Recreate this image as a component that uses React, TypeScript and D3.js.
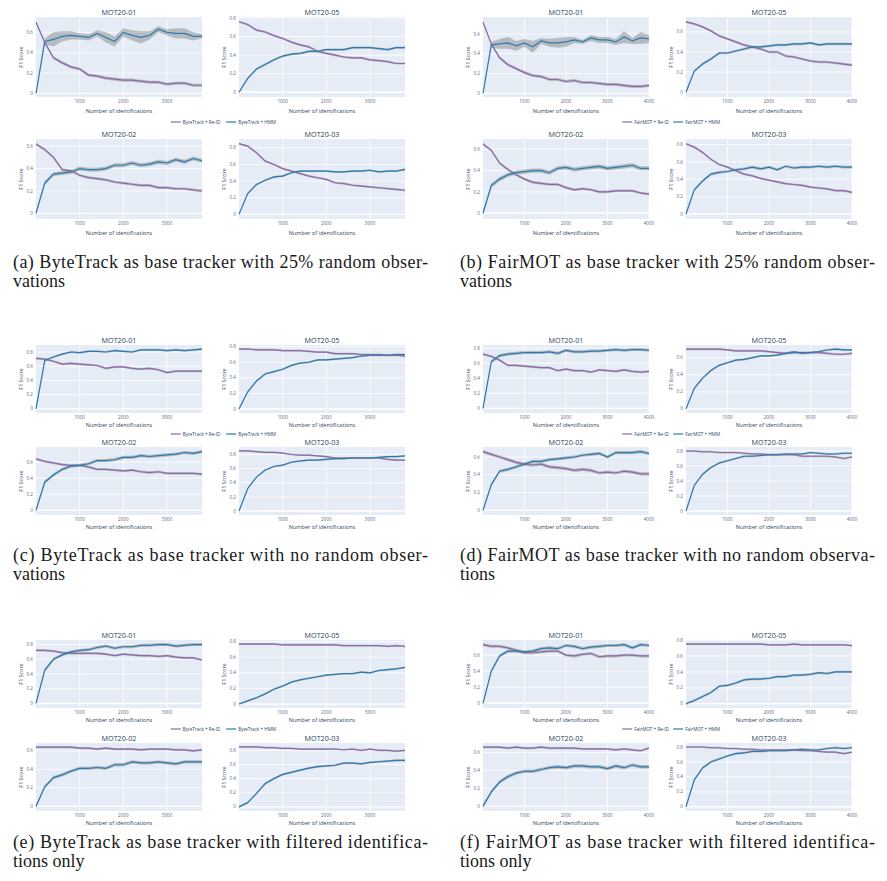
import React from 'react';
import * as d3 from 'd3';

// identification counts on the x axis
const BT_IDS = [0, 200, 400, 600, 800, 1000, 1200, 1400, 1600, 1800, 2000, 2200, 2400, 2600, 2800, 3000, 3200, 3400, 3600, 3800];
const FM_IDS = [0, 200, 400, 600, 800, 1000, 1200, 1400, 1600, 1800, 2000, 2200, 2400, 2600, 2800, 3000, 3200, 3400, 3600, 3800, 4000];
const BT_X_TICKS = [1000, 2000, 3000];
const FM_X_TICKS = [1000, 2000, 3000, 4000];
const Y_TICKS = [0, 0.2, 0.4, 0.6, 0.8];
const SEQUENCES = ['MOT20-01', 'MOT20-05', 'MOT20-02', 'MOT20-03'];

// (a) ByteTrack, 25% random observations
const A01_REID = [0.70, 0.50, 0.35, 0.30, 0.26, 0.24, 0.18, 0.17, 0.15, 0.14, 0.13, 0.13, 0.12, 0.11, 0.11, 0.09, 0.10, 0.10, 0.08, 0.08];
const A01_HMM = [0, 0.51, 0.53, 0.56, 0.57, 0.56, 0.55, 0.59, 0.55, 0.51, 0.60, 0.57, 0.55, 0.57, 0.63, 0.60, 0.59, 0.59, 0.56, 0.56];
const A01_HMM_BAND = [0, 0.03, 0.07, 0.05, 0.04, 0.03, 0.03, 0.03, 0.05, 0.05, 0.04, 0.05, 0.06, 0.04, 0.03, 0.03, 0.05, 0.05, 0.04, 0.02];
const A05_REID = [0.76, 0.73, 0.67, 0.65, 0.61, 0.58, 0.54, 0.51, 0.49, 0.44, 0.42, 0.40, 0.38, 0.37, 0.37, 0.35, 0.34, 0.33, 0.31, 0.31];
const A05_HMM = [0, 0.15, 0.25, 0.30, 0.35, 0.39, 0.41, 0.42, 0.44, 0.44, 0.46, 0.46, 0.46, 0.48, 0.48, 0.48, 0.47, 0.46, 0.48, 0.48];
const A02_REID = [0.62, 0.57, 0.50, 0.39, 0.38, 0.34, 0.32, 0.31, 0.30, 0.28, 0.27, 0.26, 0.25, 0.25, 0.23, 0.23, 0.22, 0.22, 0.21, 0.20];
const A02_HMM = [0, 0.27, 0.35, 0.36, 0.37, 0.40, 0.39, 0.39, 0.40, 0.43, 0.43, 0.45, 0.43, 0.44, 0.46, 0.45, 0.48, 0.46, 0.49, 0.47];
const A03_REID = [0.85, 0.82, 0.74, 0.64, 0.60, 0.55, 0.52, 0.49, 0.46, 0.44, 0.42, 0.38, 0.37, 0.35, 0.34, 0.33, 0.32, 0.31, 0.30, 0.29];
const A03_HMM = [0, 0.25, 0.36, 0.41, 0.45, 0.46, 0.50, 0.52, 0.52, 0.52, 0.52, 0.51, 0.51, 0.52, 0.52, 0.53, 0.51, 0.52, 0.52, 0.54];

// (b) FairMOT, 25% random observations
const B01_REID = [0.72, 0.50, 0.36, 0.29, 0.25, 0.21, 0.18, 0.17, 0.14, 0.14, 0.12, 0.13, 0.11, 0.11, 0.10, 0.09, 0.09, 0.08, 0.07, 0.07, 0.08];
const B01_HMM = [0, 0.49, 0.50, 0.51, 0.48, 0.51, 0.47, 0.53, 0.51, 0.51, 0.52, 0.54, 0.52, 0.56, 0.54, 0.54, 0.52, 0.57, 0.53, 0.56, 0.55];
const B01_HMM_BAND = [0, 0.03, 0.05, 0.06, 0.05, 0.04, 0.06, 0.03, 0.04, 0.05, 0.05, 0.03, 0.02, 0.03, 0.03, 0.03, 0.03, 0.06, 0.03, 0.06, 0.04];
const B05_REID = [0.70, 0.68, 0.65, 0.61, 0.56, 0.53, 0.50, 0.47, 0.45, 0.43, 0.40, 0.40, 0.36, 0.35, 0.33, 0.31, 0.30, 0.30, 0.29, 0.28, 0.27];
const B05_HMM = [0, 0.21, 0.28, 0.33, 0.39, 0.39, 0.41, 0.43, 0.45, 0.45, 0.46, 0.47, 0.47, 0.48, 0.48, 0.49, 0.47, 0.48, 0.48, 0.48, 0.48];
const B02_REID = [0.65, 0.59, 0.47, 0.41, 0.36, 0.32, 0.29, 0.28, 0.27, 0.27, 0.24, 0.22, 0.23, 0.22, 0.20, 0.20, 0.21, 0.21, 0.21, 0.19, 0.18];
const B02_HMM = [0, 0.26, 0.32, 0.36, 0.38, 0.39, 0.40, 0.40, 0.38, 0.42, 0.43, 0.41, 0.42, 0.43, 0.44, 0.42, 0.43, 0.44, 0.45, 0.42, 0.42];
const B03_REID = [0.81, 0.77, 0.71, 0.63, 0.57, 0.54, 0.50, 0.46, 0.44, 0.41, 0.39, 0.37, 0.35, 0.34, 0.33, 0.31, 0.30, 0.29, 0.27, 0.27, 0.25];
const B03_HMM = [0, 0.28, 0.38, 0.46, 0.48, 0.49, 0.51, 0.52, 0.54, 0.52, 0.54, 0.51, 0.55, 0.53, 0.54, 0.54, 0.55, 0.54, 0.55, 0.54, 0.54];

// (c) ByteTrack, no random observations
const C01_REID = [0.71, 0.70, 0.67, 0.63, 0.64, 0.63, 0.62, 0.61, 0.57, 0.59, 0.59, 0.57, 0.56, 0.57, 0.55, 0.51, 0.53, 0.53, 0.53, 0.53];
const C01_HMM = [0, 0.68, 0.73, 0.77, 0.80, 0.79, 0.81, 0.81, 0.80, 0.82, 0.81, 0.80, 0.83, 0.83, 0.83, 0.82, 0.83, 0.82, 0.83, 0.84];
const C05_REID = [0.77, 0.77, 0.76, 0.76, 0.76, 0.75, 0.75, 0.75, 0.74, 0.73, 0.73, 0.71, 0.71, 0.71, 0.70, 0.70, 0.70, 0.69, 0.69, 0.68];
const C05_HMM = [0, 0.22, 0.36, 0.45, 0.48, 0.51, 0.56, 0.59, 0.60, 0.63, 0.63, 0.64, 0.65, 0.66, 0.68, 0.69, 0.69, 0.69, 0.70, 0.70];
const C02_REID = [0.64, 0.61, 0.59, 0.57, 0.56, 0.56, 0.54, 0.51, 0.51, 0.50, 0.49, 0.50, 0.48, 0.47, 0.48, 0.46, 0.46, 0.46, 0.46, 0.45];
const C02_HMM = [0, 0.35, 0.44, 0.51, 0.55, 0.56, 0.58, 0.62, 0.62, 0.63, 0.66, 0.66, 0.68, 0.67, 0.68, 0.69, 0.70, 0.72, 0.71, 0.73];
const C03_REID = [0.85, 0.85, 0.84, 0.83, 0.83, 0.82, 0.80, 0.79, 0.79, 0.78, 0.77, 0.75, 0.75, 0.75, 0.75, 0.75, 0.75, 0.73, 0.72, 0.72];
const C03_HMM = [0, 0.32, 0.48, 0.58, 0.63, 0.65, 0.69, 0.71, 0.72, 0.72, 0.73, 0.74, 0.74, 0.75, 0.75, 0.75, 0.76, 0.77, 0.77, 0.78];

// (d) FairMOT, no random observations
const D01_REID = [0.72, 0.69, 0.64, 0.57, 0.57, 0.56, 0.55, 0.54, 0.54, 0.50, 0.52, 0.50, 0.50, 0.48, 0.51, 0.50, 0.49, 0.51, 0.49, 0.48, 0.49];
const D01_HMM = [0, 0.62, 0.70, 0.72, 0.73, 0.74, 0.74, 0.74, 0.75, 0.73, 0.77, 0.75, 0.75, 0.76, 0.76, 0.77, 0.78, 0.77, 0.78, 0.78, 0.77];
const D05_REID = [0.70, 0.70, 0.70, 0.70, 0.70, 0.69, 0.68, 0.68, 0.68, 0.68, 0.67, 0.66, 0.65, 0.67, 0.65, 0.66, 0.66, 0.65, 0.64, 0.64, 0.65];
const D05_HMM = [0, 0.24, 0.36, 0.45, 0.51, 0.54, 0.57, 0.58, 0.60, 0.62, 0.62, 0.63, 0.65, 0.66, 0.66, 0.66, 0.67, 0.69, 0.70, 0.69, 0.69];
const D02_REID = [0.66, 0.63, 0.60, 0.57, 0.54, 0.52, 0.51, 0.52, 0.49, 0.48, 0.47, 0.45, 0.46, 0.45, 0.42, 0.43, 0.42, 0.44, 0.43, 0.41, 0.41];
const D02_HMM = [0, 0.29, 0.44, 0.46, 0.49, 0.52, 0.55, 0.55, 0.57, 0.58, 0.59, 0.60, 0.62, 0.63, 0.64, 0.60, 0.65, 0.65, 0.65, 0.66, 0.64];
const D03_REID = [0.80, 0.80, 0.79, 0.79, 0.78, 0.78, 0.78, 0.77, 0.76, 0.76, 0.75, 0.75, 0.75, 0.75, 0.73, 0.73, 0.73, 0.73, 0.72, 0.70, 0.72];
const D03_HMM = [0, 0.34, 0.49, 0.58, 0.64, 0.67, 0.70, 0.73, 0.73, 0.74, 0.75, 0.75, 0.76, 0.76, 0.76, 0.78, 0.77, 0.76, 0.76, 0.77, 0.77];

// (e) ByteTrack, filtered identifications only
const E01_REID = [0.72, 0.72, 0.71, 0.69, 0.68, 0.68, 0.68, 0.68, 0.67, 0.65, 0.67, 0.66, 0.65, 0.65, 0.64, 0.65, 0.63, 0.62, 0.62, 0.59];
const E01_HMM = [0, 0.45, 0.60, 0.66, 0.70, 0.72, 0.73, 0.76, 0.78, 0.75, 0.77, 0.77, 0.79, 0.79, 0.80, 0.80, 0.78, 0.79, 0.80, 0.80];
const E05_REID = [0.77, 0.77, 0.77, 0.77, 0.77, 0.76, 0.76, 0.76, 0.76, 0.76, 0.76, 0.76, 0.75, 0.75, 0.75, 0.75, 0.75, 0.74, 0.75, 0.74];
const E05_HMM = [0, 0.04, 0.08, 0.13, 0.19, 0.23, 0.28, 0.31, 0.33, 0.35, 0.37, 0.38, 0.39, 0.39, 0.41, 0.40, 0.43, 0.44, 0.45, 0.47];
const E02_REID = [0.64, 0.64, 0.64, 0.64, 0.64, 0.63, 0.63, 0.62, 0.63, 0.62, 0.62, 0.62, 0.61, 0.62, 0.62, 0.62, 0.61, 0.61, 0.60, 0.61];
const E02_HMM = [0, 0.21, 0.31, 0.34, 0.38, 0.41, 0.41, 0.42, 0.41, 0.45, 0.45, 0.48, 0.47, 0.47, 0.48, 0.47, 0.46, 0.48, 0.48, 0.48];
const E03_REID = [0.85, 0.85, 0.85, 0.84, 0.84, 0.83, 0.83, 0.82, 0.82, 0.82, 0.82, 0.82, 0.81, 0.82, 0.80, 0.82, 0.80, 0.80, 0.79, 0.80];
const E03_HMM = [0, 0.06, 0.19, 0.33, 0.40, 0.46, 0.49, 0.52, 0.55, 0.57, 0.58, 0.59, 0.62, 0.62, 0.61, 0.63, 0.64, 0.65, 0.66, 0.66];

// (f) FairMOT, filtered identifications only
const F01_REID = [0.73, 0.71, 0.71, 0.69, 0.66, 0.63, 0.63, 0.64, 0.65, 0.65, 0.60, 0.59, 0.61, 0.62, 0.58, 0.59, 0.59, 0.60, 0.60, 0.59, 0.59];
const F01_HMM = [0, 0.40, 0.59, 0.65, 0.65, 0.64, 0.65, 0.68, 0.69, 0.68, 0.72, 0.71, 0.68, 0.70, 0.71, 0.72, 0.72, 0.73, 0.69, 0.73, 0.72];
const F05_REID = [0.75, 0.75, 0.75, 0.75, 0.75, 0.75, 0.75, 0.75, 0.75, 0.75, 0.74, 0.74, 0.74, 0.75, 0.74, 0.74, 0.74, 0.74, 0.74, 0.74, 0.73];
const F05_HMM = [0, 0.04, 0.09, 0.14, 0.22, 0.23, 0.26, 0.30, 0.31, 0.31, 0.32, 0.34, 0.34, 0.36, 0.36, 0.37, 0.39, 0.38, 0.40, 0.40, 0.40];
const F02_REID = [0.66, 0.66, 0.66, 0.65, 0.66, 0.65, 0.65, 0.66, 0.65, 0.65, 0.65, 0.65, 0.64, 0.64, 0.64, 0.64, 0.63, 0.64, 0.63, 0.62, 0.65];
const F02_HMM = [0, 0.16, 0.27, 0.33, 0.37, 0.39, 0.39, 0.41, 0.43, 0.44, 0.43, 0.45, 0.45, 0.44, 0.44, 0.42, 0.45, 0.43, 0.46, 0.44, 0.44];
const F03_REID = [0.80, 0.80, 0.80, 0.79, 0.79, 0.78, 0.78, 0.77, 0.77, 0.76, 0.76, 0.76, 0.76, 0.76, 0.75, 0.75, 0.74, 0.73, 0.73, 0.71, 0.73];
const F03_HMM = [0, 0.36, 0.52, 0.60, 0.64, 0.68, 0.71, 0.72, 0.74, 0.74, 0.75, 0.75, 0.75, 0.76, 0.77, 0.76, 0.76, 0.78, 0.79, 0.78, 0.79];

const BAND = 0.012; // typical half-width of the std band

const CAPTIONS = [
  ['(a) ByteTrack as base tracker with 25% random obser-', 'vations'],
  ['(b) FairMOT as base tracker with 25% random obser-', 'vations'],
  ['(c) ByteTrack as base tracker with no random obser-', 'vations'],
  ['(d) FairMOT as base tracker with no random observa-', 'tions'],
  ['(e) ByteTrack as base tracker with filtered identifica-', 'tions only'],
  ['(f) FairMOT as base tracker with filtered identifica-', 'tions only'],
];

type Series = { reid: number[]; hmm: number[]; reidBand?: number | number[]; hmmBand?: number | number[] };

const SUBFIGS: { tracker: string; ids: number[]; xTicks: number[]; panels: Series[] }[] = [
  { tracker: 'ByteTrack', ids: BT_IDS, xTicks: BT_X_TICKS, panels: [
    { reid: A01_REID, hmm: A01_HMM, reidBand: 0.015, hmmBand: A01_HMM_BAND },
    { reid: A05_REID, hmm: A05_HMM },
    { reid: A02_REID, hmm: A02_HMM, hmmBand: 0.018 },
    { reid: A03_REID, hmm: A03_HMM } ] },
  { tracker: 'FairMOT', ids: FM_IDS, xTicks: FM_X_TICKS, panels: [
    { reid: B01_REID, hmm: B01_HMM, reidBand: 0.015, hmmBand: B01_HMM_BAND },
    { reid: B05_REID, hmm: B05_HMM },
    { reid: B02_REID, hmm: B02_HMM, hmmBand: 0.02 },
    { reid: B03_REID, hmm: B03_HMM, hmmBand: 0.015 } ] },
  { tracker: 'ByteTrack', ids: BT_IDS, xTicks: BT_X_TICKS, panels: [
    { reid: C01_REID, hmm: C01_HMM, reidBand: 0.015, hmmBand: 0.015 },
    { reid: C05_REID, hmm: C05_HMM },
    { reid: C02_REID, hmm: C02_HMM, reidBand: 0.015, hmmBand: 0.02 },
    { reid: C03_REID, hmm: C03_HMM } ] },
  { tracker: 'FairMOT', ids: FM_IDS, xTicks: FM_X_TICKS, panels: [
    { reid: D01_REID, hmm: D01_HMM, reidBand: 0.015, hmmBand: 0.02 },
    { reid: D05_REID, hmm: D05_HMM },
    { reid: D02_REID, hmm: D02_HMM, reidBand: 0.018, hmmBand: 0.018 },
    { reid: D03_REID, hmm: D03_HMM } ] },
  { tracker: 'ByteTrack', ids: BT_IDS, xTicks: BT_X_TICKS, panels: [
    { reid: E01_REID, hmm: E01_HMM, reidBand: 0.015, hmmBand: 0.02 },
    { reid: E05_REID, hmm: E05_HMM },
    { reid: E02_REID, hmm: E02_HMM, hmmBand: 0.018 },
    { reid: E03_REID, hmm: E03_HMM, hmmBand: 0.015 } ] },
  { tracker: 'FairMOT', ids: FM_IDS, xTicks: FM_X_TICKS, panels: [
    { reid: F01_REID, hmm: F01_HMM, reidBand: 0.018, hmmBand: 0.02 },
    { reid: F05_REID, hmm: F05_HMM, hmmBand: 0.015 },
    { reid: F02_REID, hmm: F02_HMM, hmmBand: 0.02 },
    { reid: F03_REID, hmm: F03_HMM, hmmBand: 0.015 } ] },
];

const C = {
  reid: '#8c6aa8',
  hmm: '#2b7bb0',
  band: '#8a8a8a',
  bg: '#e5ecf6',
  title: '#2a3f5f',
  tick: '#5a6b85',
};
const PLOT_FONT = "'Open Sans', 'Noto Sans', sans-serif";
const CAPTION_FONT = "'Liberation Serif', 'DejaVu Serif', serif";

// layout of the three rows of subfigures
const ROWS = [
  { tops: [17, 139], h: 80, xlab: 14, legendY: 122, capY: [268, 287] },
  { tops: [345, 447], h: 68, xlab: 12, legendY: 434, capY: [561, 580] },
  { tops: [640, 743], h: 68, xlab: 12, legendY: 729, capY: [848, 867] },
];
const COL_X = [0, 447];
const PANEL_X = [36, 239];
const PANEL_W = 166;

const bandAt = (b: number | number[] | undefined, i: number) =>
  b === undefined ? BAND : typeof b === 'number' ? b : b[i];

function Panel({ x, y, w, h, title, ids, xTicks, s, xlab }: {
  x: number; y: number; w: number; h: number; title: string; ids: number[]; xTicks: number[]; s: Series; xlab: number;
}) {
  const rows = ids.map((id, i) => ({
    id,
    r: s.reid[i], rb: bandAt(s.reidBand, i),
    m: s.hmm[i], mb: bandAt(s.hmmBand, i),
  }));
  const lo = d3.min(rows, d => Math.min(d.r - d.rb, d.m - d.mb)) as number;
  const hi = d3.max(rows, d => Math.max(d.r + d.rb, d.m + d.mb)) as number;
  const pad = (hi - lo) * 0.05;
  const xs = d3.scaleLinear().domain(d3.extent(ids) as [number, number]).range([x, x + w]);
  const ys = d3.scaleLinear().domain([lo - pad, hi + pad]).range([y + h, y]);

  const reidLine = d3.line<typeof rows[0]>().x(d => xs(d.id)).y(d => ys(d.r));
  const hmmLine = d3.line<typeof rows[0]>().x(d => xs(d.id)).y(d => ys(d.m));
  const reidArea = d3.area<typeof rows[0]>().x(d => xs(d.id)).y0(d => ys(d.r - d.rb)).y1(d => ys(d.r + d.rb));
  const hmmArea = d3.area<typeof rows[0]>().x(d => xs(d.id)).y0(d => ys(d.m - d.mb)).y1(d => ys(d.m + d.mb));
  const yTicks = Y_TICKS.filter(t => t >= lo - pad && t <= hi + pad);

  return (
    <g>
      <rect x={x} y={y} width={w} height={h} fill={C.bg} />
      {xTicks.map(t => (
        <line key={'gx' + t} x1={xs(t)} x2={xs(t)} y1={y} y2={y + h} stroke="#fff" strokeWidth={0.8} />
      ))}
      {yTicks.map(t => (
        <line key={'gy' + t} x1={x} x2={x + w} y1={ys(t)} y2={ys(t)} stroke="#fff" strokeWidth={t === 0 ? 1.4 : 0.8} />
      ))}
      <path d={reidArea(rows) as string} fill={C.band} fillOpacity={0.5} />
      <path d={hmmArea(rows) as string} fill={C.band} fillOpacity={0.5} />
      <path d={reidLine(rows) as string} fill="none" stroke={C.reid} strokeWidth={1.2} />
      <path d={hmmLine(rows) as string} fill="none" stroke={C.hmm} strokeWidth={1.2} />
      {yTicks.map(t => (
        <text key={'ty' + t} x={x - 3} y={ys(t)} dy="0.35em" textAnchor="end" fontSize={4.6} fill={C.tick} fontFamily={PLOT_FONT}>
          {t === 0 ? '0' : d3.format('.1f')(t)}
        </text>
      ))}
      {xTicks.map(t => (
        <text key={'tx' + t} x={xs(t)} y={y + h + 6} textAnchor="middle" fontSize={4.6} fill={C.tick} fontFamily={PLOT_FONT}>
          {t}
        </text>
      ))}
      <text x={x + w / 2} y={y - 2} textAnchor="middle" fontSize={7.2} fill={C.title} fontFamily={PLOT_FONT}>{title}</text>
      <text x={x + w / 2} y={y + h + xlab + 2} textAnchor="middle" fontSize={5.6} fill={C.title} fontFamily={PLOT_FONT}>
        Number of identifications
      </text>
      <text transform={`translate(${x - 13},${y + h / 2}) rotate(-90)`} textAnchor="middle" fontSize={5.4} fill={C.title} fontFamily={PLOT_FONT}>
        F1 Score
      </text>
    </g>
  );
}

function Legend({ cx, y, tracker }: { cx: number; y: number; tracker: string }) {
  const labels = [`${tracker} + Re-ID`, `${tracker} + HMM`];
  const cw = 2.2;
  const widths = labels.map(l => 12 + l.length * cw);
  const total = widths[0] + widths[1] + 6;
  let cur = cx - total / 2;
  return (
    <g>
      {labels.map((l, i) => {
        const x0 = cur;
        cur += widths[i] + 6;
        return (
          <g key={l}>
            <line x1={x0} x2={x0 + 10} y1={y} y2={y} stroke={i === 0 ? C.reid : C.hmm} strokeWidth={1.2} />
            <text x={x0 + 12} y={y} dy="0.35em" fontSize={4.6} fill={C.title} fontFamily={PLOT_FONT}>{l}</text>
          </g>
        );
      })}
    </g>
  );
}

export default function App() {
  return (
    <svg width={887} height={881} style={{ position: 'absolute', left: 0, top: 0, background: '#fff' }}>
      <rect width={887} height={881} fill="#fff" />
      {SUBFIGS.map((sf, k) => {
        const row = ROWS[Math.floor(k / 2)];
        const ox = COL_X[k % 2];
        return (
          <g key={k}>
            {sf.panels.map((s, p) => (
              <Panel
                key={p}
                x={ox + PANEL_X[p % 2]}
                y={row.tops[Math.floor(p / 2)]}
                w={PANEL_W}
                h={row.h}
                title={SEQUENCES[p]}
                ids={sf.ids}
                xTicks={sf.xTicks}
                s={s}
                xlab={row.xlab}
              />
            ))}
            <Legend cx={ox + 221} y={row.legendY} tracker={sf.tracker} />
            <text x={ox + 13} y={row.capY[0]} fontSize={18} fontFamily={CAPTION_FONT} fill="#1a1a1a"
              textLength={415} lengthAdjust="spacing">
              {CAPTIONS[k][0]}
            </text>
            <text x={ox + 13} y={row.capY[1]} fontSize={18} fontFamily={CAPTION_FONT} fill="#1a1a1a">
              {CAPTIONS[k][1]}
            </text>
          </g>
        );
      })}
    </svg>
  );
}
